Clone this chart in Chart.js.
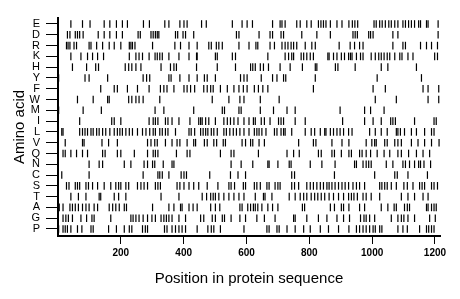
<!DOCTYPE html>
<html>
<head>
<meta charset="utf-8">
<script src="https://cdn.jsdelivr.net/npm/chart.js@4"></script>
<style>
  html, body { margin: 0; padding: 0; background: #fff; }
  #wrap { width: 460px; height: 299px; position: relative; }
</style>
</head>
<body>
<div id="wrap"><canvas id="residueChart"></canvas></div>
<script>
// residue positions, one list per amino acid
const aminoAcids = ['E', 'D', 'R', 'K', 'H', 'Y', 'F', 'W', 'M', 'I', 'L', 'V', 'Q', 'N', 'C', 'S', 'T', 'A', 'G', 'P'];
const xTicks = [200, 400, 600, 800, 1000, 1200];
const seqLength = 1216;

const E = [41, 78, 102, 147, 165, 186, 205, 221, 272, 291, 340, 353, 388, 401, 411, 457, 472, 555, 586, 602, 619, 683, 707, 713, 723, 760, 771, 792, 806, 829, 837, 845, 853, 867, 888, 904, 926, 937, 945, 954, 1006, 1013, 1024, 1032, 1042, 1053, 1061, 1072, 1082, 1098, 1106, 1116, 1125, 1135, 1148, 1154, 1173, 1178, 1210];
const D = [30, 38, 55, 62, 69, 80, 128, 147, 165, 186, 205, 255, 262, 296, 303, 310, 316, 321, 374, 381, 398, 406, 432, 568, 576, 640, 675, 683, 710, 718, 776, 824, 867, 939, 946, 953, 989, 995, 1003, 1066, 1082, 1210];
const R = [27, 32, 38, 51, 59, 99, 105, 123, 142, 163, 179, 200, 227, 232, 237, 245, 301, 372, 390, 417, 443, 480, 488, 504, 512, 523, 576, 608, 630, 636, 675, 689, 713, 723, 732, 742, 750, 760, 787, 808, 819, 895, 930, 944, 960, 971, 1066, 1098, 1106, 1154, 1173, 1189, 1208];
const K = [41, 73, 94, 110, 126, 145, 227, 248, 258, 269, 290, 309, 316, 324, 332, 353, 385, 417, 441, 443, 501, 507, 555, 565, 668, 723, 734, 744, 750, 774, 782, 792, 803, 813, 859, 863, 877, 888, 902, 912, 925, 931, 936, 950, 963, 971, 997, 1010, 1021, 1029, 1038, 1048, 1056, 1072, 1088, 1095, 1114, 1130, 1199, 1208];
const H = [46, 91, 120, 129, 214, 225, 235, 248, 264, 328, 358, 369, 377, 441, 507, 565, 613, 620, 628, 644, 654, 670, 707, 739, 778, 819, 824, 883, 891, 946, 1029, 1050, 1141];
const Y = [2, 86, 99, 158, 271, 282, 292, 353, 360, 388, 417, 443, 466, 475, 501, 581, 592, 602, 647, 683, 697, 718, 725, 819, 1016, 1157];
const F = [136, 179, 189, 221, 253, 290, 326, 337, 347, 369, 401, 411, 422, 435, 464, 475, 486, 494, 517, 539, 560, 576, 590, 602, 625, 638, 652, 668, 813, 1003, 1042, 1162, 1178, 1212];
const W = [62, 112, 158, 163, 225, 235, 248, 258, 271, 324, 491, 544, 579, 592, 644, 704, 1010, 1077, 1178, 1212];
const M = [2, 80, 138, 309, 337, 432, 523, 530, 576, 583, 644, 686, 729, 755, 898, 976, 995, 1038];
const I = [69, 171, 179, 200, 290, 303, 310, 318, 342, 350, 363, 385, 420, 448, 454, 459, 470, 480, 501, 528, 539, 549, 560, 573, 592, 608, 622, 628, 647, 657, 675, 702, 710, 718, 755, 787, 906, 976, 1003, 1029, 1059, 1066, 1074, 1135, 1197, 1204];
const L = [12, 16, 69, 78, 86, 94, 105, 112, 123, 131, 142, 152, 165, 179, 189, 197, 205, 216, 227, 237, 253, 269, 280, 292, 303, 310, 324, 332, 342, 350, 374, 417, 424, 435, 454, 462, 470, 477, 488, 496, 507, 528, 536, 547, 558, 568, 579, 592, 608, 625, 633, 640, 649, 662, 689, 697, 710, 718, 723, 744, 787, 806, 817, 835, 849, 853, 867, 877, 888, 898, 909, 925, 936, 992, 1010, 1029, 1048, 1077, 1082, 1090, 1103, 1125, 1141, 1167, 1189, 1197];
const V = [23, 78, 83, 140, 161, 189, 285, 296, 308, 316, 342, 363, 379, 388, 411, 432, 438, 466, 475, 496, 505, 526, 533, 586, 597, 613, 620, 640, 657, 766, 813, 821, 872, 904, 926, 981, 999, 1008, 1013, 1040, 1048, 1072, 1082, 1093, 1125, 1146, 1167, 1189, 1213];
const Q = [16, 23, 41, 59, 78, 94, 142, 150, 189, 200, 243, 285, 303, 310, 318, 377, 411, 420, 517, 551, 560, 638, 729, 750, 768, 829, 838, 872, 880, 902, 926, 934, 960, 968, 981, 995, 1016, 1038, 1056, 1082, 1093, 1116, 1141, 1162, 1183];
const N = [99, 131, 142, 211, 232, 274, 285, 301, 308, 335, 363, 369, 551, 583, 620, 668, 672, 700, 736, 742, 803, 840, 882, 944, 950, 971, 981, 989, 997, 1045, 1066, 1098, 1106, 1119, 1135, 1148, 1154, 1165, 1186];
const C = [12, 99, 271, 318, 324, 332, 353, 392, 401, 409, 483, 549, 573, 597, 744, 753, 880, 1008, 1072, 1080, 1114, 1176];
const S = [27, 35, 55, 62, 69, 89, 97, 110, 126, 147, 168, 184, 193, 200, 216, 225, 253, 264, 274, 285, 310, 318, 326, 379, 388, 401, 417, 432, 448, 475, 509, 544, 551, 562, 590, 597, 625, 633, 644, 665, 672, 691, 700, 707, 744, 753, 766, 792, 803, 813, 824, 835, 845, 856, 863, 872, 882, 893, 904, 914, 925, 939, 950, 960, 976, 1024, 1031, 1040, 1048, 1061, 1077, 1101, 1112, 1130, 1151, 1159, 1167, 1189, 1197, 1208];
const T = [41, 65, 89, 131, 136, 179, 193, 216, 328, 385, 459, 473, 486, 494, 501, 512, 528, 544, 560, 576, 592, 628, 654, 659, 681, 736, 755, 771, 782, 792, 806, 817, 827, 838, 849, 863, 877, 893, 909, 925, 934, 942, 953, 971, 981, 997, 1024, 1093, 1114, 1135, 1162, 1178];
const A = [1, 4, 16, 38, 46, 55, 65, 78, 89, 99, 115, 126, 163, 174, 184, 195, 211, 218, 301, 353, 369, 390, 395, 417, 430, 443, 486, 501, 515, 579, 586, 604, 613, 622, 628, 636, 649, 668, 683, 700, 778, 785, 867, 880, 902, 909, 926, 960, 976, 1029, 1050, 1070, 1077, 1103, 1112, 1119, 1173, 1178, 1189, 1197, 1204];
const G = [16, 25, 33, 46, 73, 91, 108, 115, 168, 232, 239, 248, 258, 271, 285, 299, 310, 328, 337, 345, 353, 363, 385, 406, 454, 464, 491, 501, 523, 530, 551, 579, 597, 633, 657, 691, 750, 755, 792, 829, 856, 888, 909, 928, 963, 974, 981, 992, 1008, 1061, 1082, 1093, 1101, 1114, 1135, 1183, 1201];
const P = [2, 16, 23, 30, 41, 62, 76, 105, 112, 161, 186, 211, 227, 235, 269, 278, 285, 339, 347, 363, 374, 385, 395, 406, 443, 477, 488, 496, 517, 592, 665, 672, 697, 704, 729, 755, 782, 803, 835, 861, 893, 926, 950, 960, 971, 981, 992, 1003, 1010, 1024, 1031, 1082, 1098, 1112, 1151, 1173, 1180, 1189, 1197];

const positions = [E, D, R, K, H, Y, F, W, M, I, L, V, Q, N, C, S, T, A, G, P];

const fontFamily = '"Liberation Sans", Arial, Helvetica, sans-serif';

const datasets = positions.map(function(list, row) {
  return {
    label: aminoAcids[row],
    data: list.map(pos => ({ x: pos, y: row })),
    pointStyle: 'line',
    rotation: 90,
    pointRadius: 3.8,
    pointBorderWidth: 1.2,
    borderColor: '#000',
    backgroundColor: '#000'
  };
});

const config = {
  type: 'scatter',
  data: { datasets },
  options: {
    responsive: true,
    maintainAspectRatio: false,
    animation: false,
    layout: { padding: { top: 18, right: 20, left: 0, bottom: 0 } },
    plugins: {
      legend: { display: false },
      tooltip: { enabled: false }
    },
    scales: {
      x: {
        type: 'linear',
        min: 0,
        max: seqLength,
        afterBuildTicks: s => { s.ticks = xTicks.map(v => ({ value: v })); },
        afterFit: s => { s.height = 63; },
        grid: { drawOnChartArea: false, tickLength: 8, color: '#000', lineWidth: 1 },
        border: { color: '#000', width: 2 },
        ticks: {
          color: '#000',
          padding: 3,
          maxRotation: 0,
          font: { family: fontFamily, size: 10, weight: 'bold' },
          callback: v => String(v)
        },
        title: {
          display: true,
          text: 'Position in protein sequence',
          color: '#000',
          font: { family: fontFamily, size: 15 },
          padding: { top: 4, bottom: 11 }
        }
      },
      y: {
        type: 'linear',
        reverse: true,
        min: -0.556,
        max: 19.649,
        afterBuildTicks: s => { s.ticks = aminoAcids.map((a, i) => ({ value: i })); },
        afterFit: s => { s.width = 58; },
        grid: { drawOnChartArea: false, tickLength: 12, color: '#000', lineWidth: 1 },
        border: { color: '#000', width: 2 },
        ticks: {
          color: '#000',
          padding: 6,
          autoSkip: false,
          font: { family: fontFamily, size: 11 },
          callback: v => aminoAcids[v]
        },
        title: {
          display: true,
          text: 'Amino acid',
          color: '#000',
          font: { family: fontFamily, size: 15 },
          padding: { top: 11, bottom: 0 }
        }
      }
    }
  }
};

new Chart(document.getElementById('residueChart'), config);
</script>
</body>
</html>
